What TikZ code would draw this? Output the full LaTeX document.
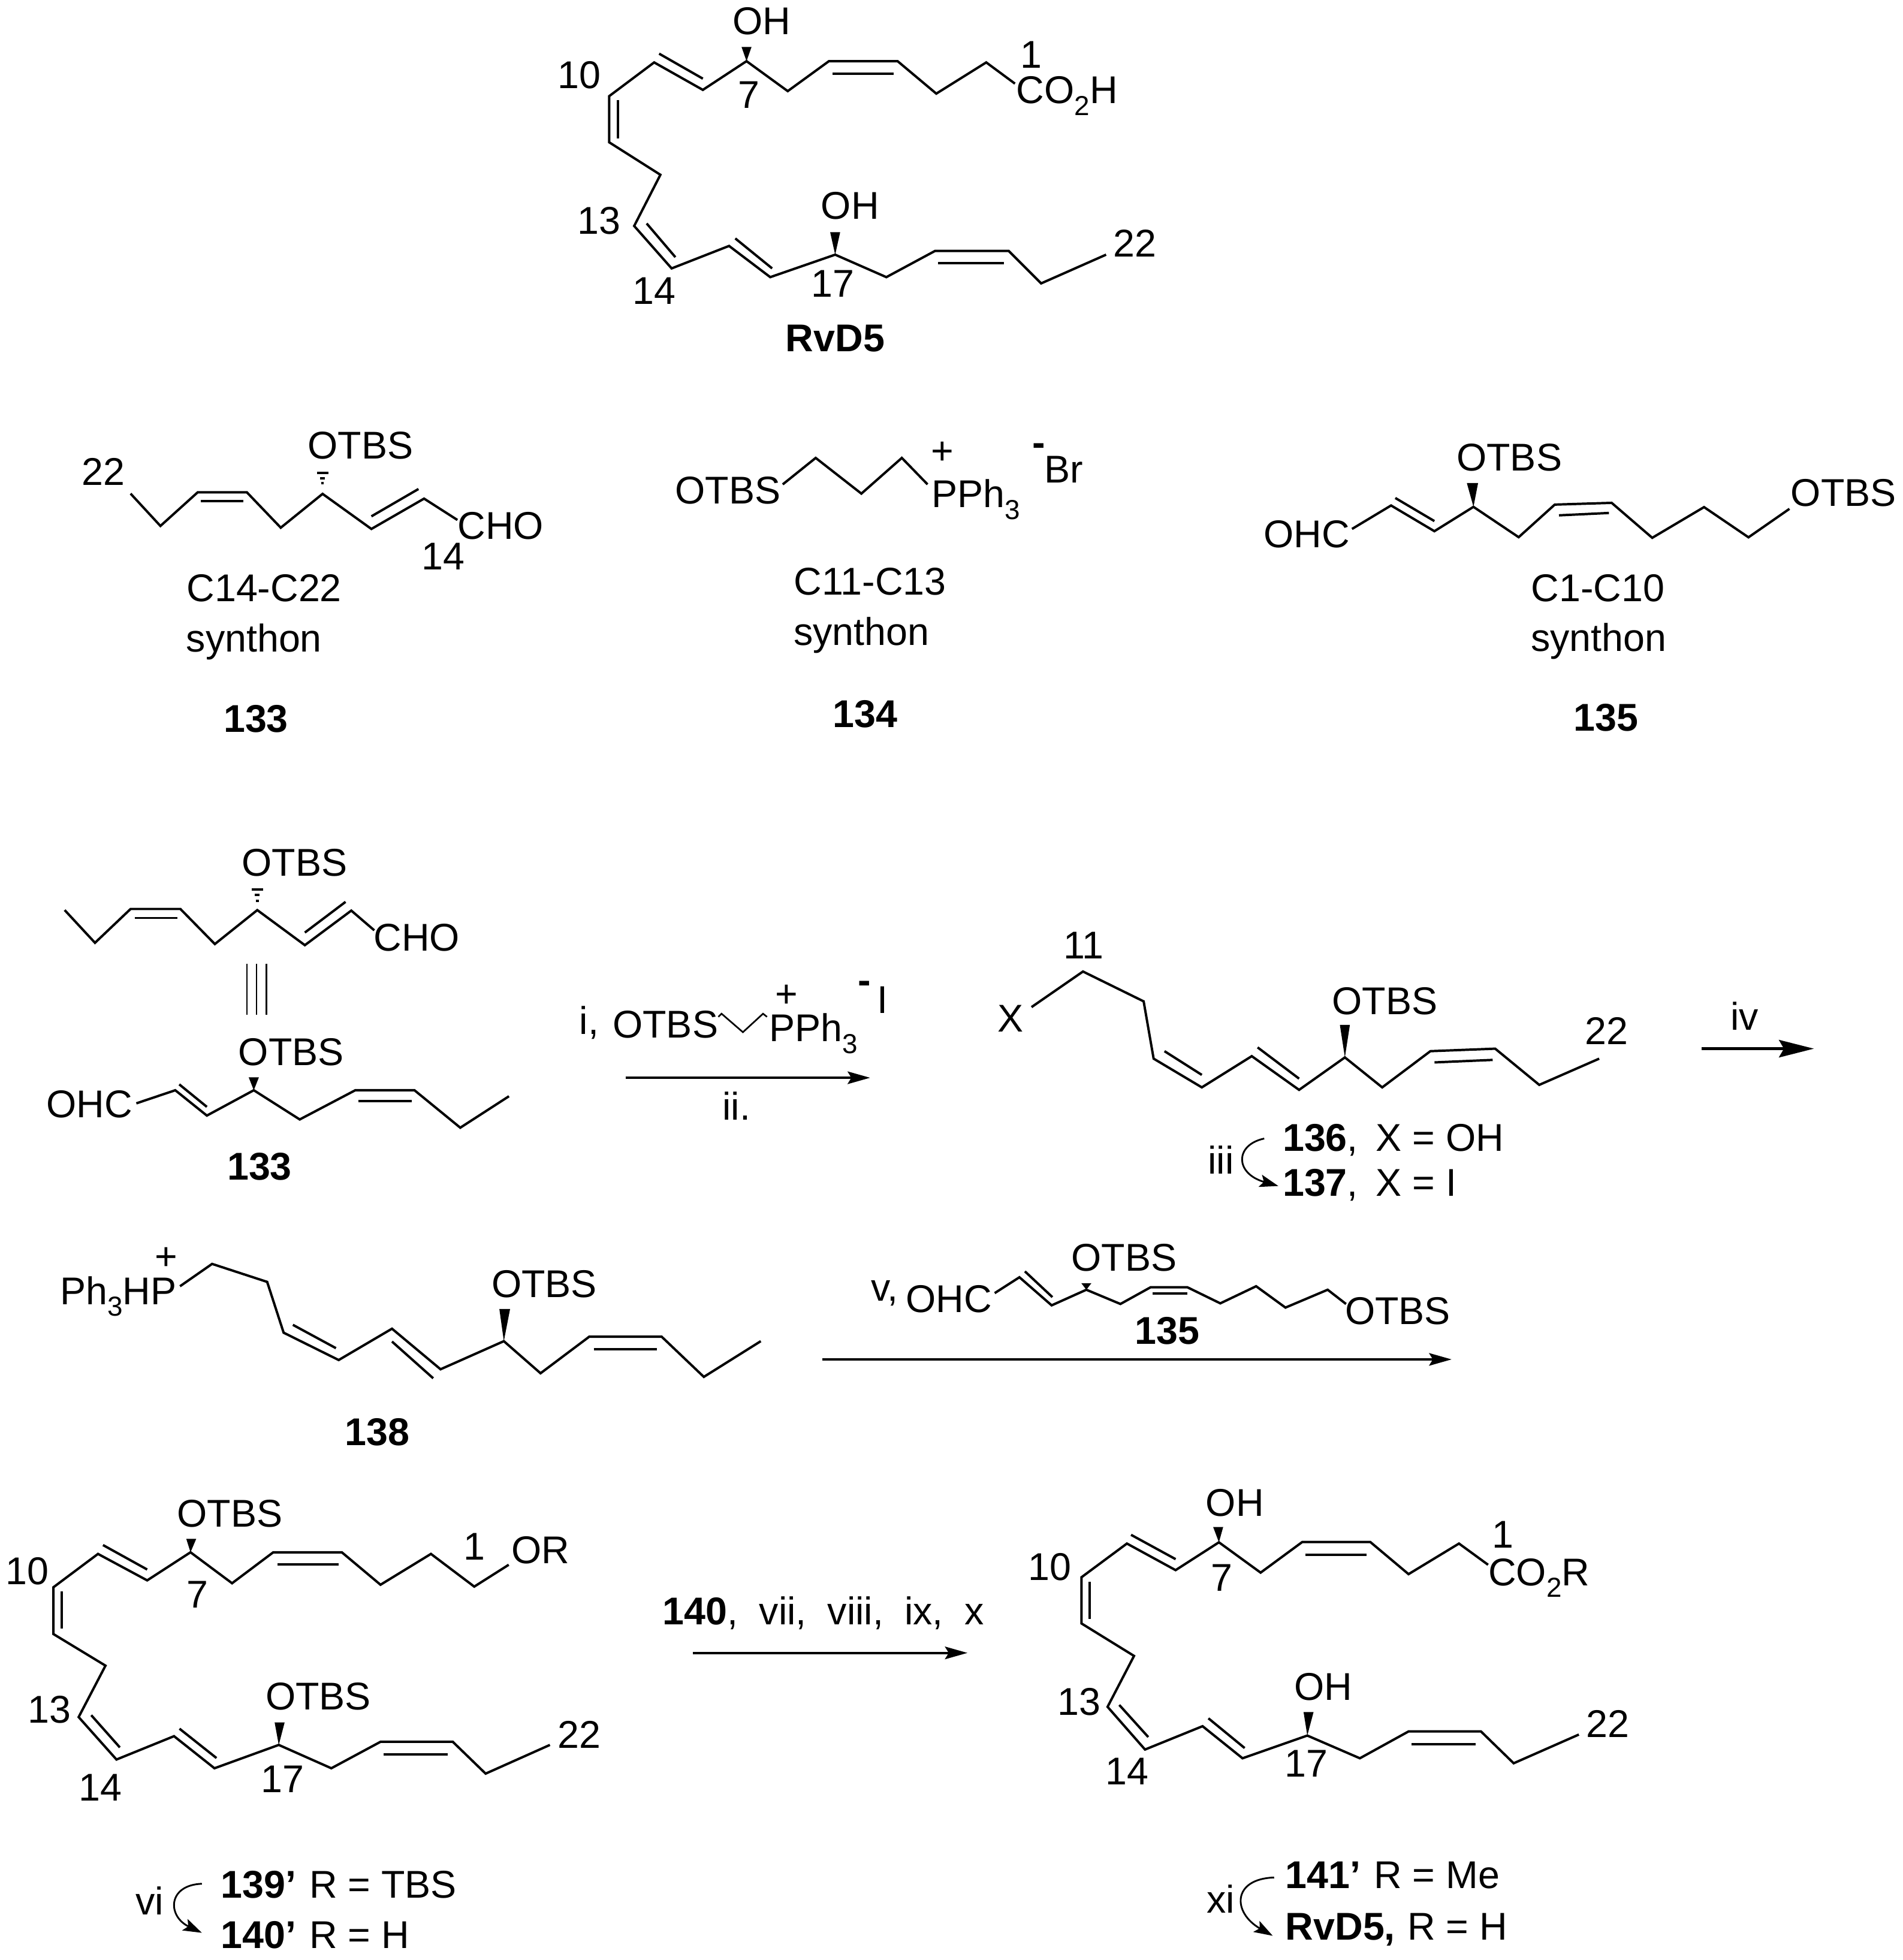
\documentclass[tikz,border=0pt]{standalone}
\usepackage{fontspec}
\setmainfont{Liberation Sans}
\usetikzlibrary{arrows.meta}
\newcommand{\lowsub}[1]{\raisebox{-0.3em}{\fontsize{22}{24}\selectfont #1}}
\tikzset{
  bond/.style={line width=1.9pt, line join=miter},
  lab/.style={inner sep=0pt, font=\fontsize{31}{35}\selectfont},
  rxn/.style={line width=2pt, -{Stealth[length=18pt,width=10pt,inset=3pt]}},
  curvearrow/.style={line width=1.4pt, -{Stealth[length=15pt,width=10pt,inset=3pt]}},
  hash/.style={line width=2pt}
}
\begin{document}
\begin{tikzpicture}[x=1pt,y=-1pt]
  \useasboundingbox (0,0) rectangle (1524,1570);
  \begin{scope}
    \draw[bond] (813,67) -- (790,50) -- (750,75) -- (719,49) -- (664,49) -- (631,73) -- (598,49) -- (563,72) -- (524,50) -- (488,77) -- (488,114) -- (529,140) -- (508,181) -- (538,215) -- (584,197) -- (617,222) -- (669,204) -- (710,222) -- (749,201) -- (808,201) -- (834,227) -- (886,204);
    \draw[bond] (528,43) -- (563,63);
    \draw[bond] (667,59) -- (716,59);
    \draw[bond] (495,80) -- (495,111);
    \draw[bond] (518,179) -- (541,206);
    \draw[bond] (589,191) -- (618.5,215);
    \draw[bond] (751.5,211) -- (804,211);
    \fill (598,49) -- (594,37.6) -- (602,37.6) -- cycle;
    \fill (669,204) -- (665,186) -- (673,186) -- cycle;
    \node[lab] (oha) at (610,17) {OH};
    \node[lab] (ohb) at (681,165) {OH};
    \node[lab] (ca) at (826,44) {1};
    \node[lab,anchor=base west] (acid) at (814,83) {CO\lowsub{2}H};
    \node[lab] (cg) at (600,76) {7};
    \node[lab] (cj) at (464,60) {10};
    \node[lab] (cm) at (480,177) {13};
    \node[lab] (cn) at (524,233) {14};
    \node[lab] (cq) at (667,227) {17};
    \node[lab] (cv) at (909,195) {22};
    \node[lab] (rvd) at (669,271) {\textbf{RvD5}};
  \end{scope}
  \begin{scope}
    \draw[bond] (104.6,395.4) -- (128.5,421.3) -- (158.3,394.4) -- (197.8,394.4) -- (224.9,422.7) -- (258.4,395.6) -- (297.5,423.7) -- (339.7,399.4) -- (366.4,416.5);
    \draw[bond] (160.6,401.6) -- (195,401.6);
    \draw[bond] (297.5,413.6) -- (335.2,391.7);
    \draw[hash] (257.4,387) -- (259.4,387);
    \draw[hash] (256.4,383) -- (260.4,383);
    \draw[hash] (253.9,378.8) -- (262.9,378.8);
    \node[lab] (sa22) at (83,377.6) {22};
    \node[lab] (saotbs) at (288.8,357) {OTBS};
    \node[lab] (sacho) at (401,421) {CHO};
    \node[lab] (sa14) at (355,445.7) {14};
    \node[lab] (satxt) at (211.6,471) {C14-C22};
    \node[lab,anchor=base] (saname) at (203.5,522) {synthon};
    \node[lab] (sanum) at (205,576) {\textbf{133}};
  \end{scope}
  \begin{scope}
    \draw[bond] (627,388) -- (653.4,366.8) -- (690,395.4) -- (722.4,366.8) -- (743,388);
    \node[lab] (sbotbs) at (583,393) {OTBS};
    \node[lab,anchor=base west] (sbp) at (746,406.6) {PPh\lowsub{3}};
    \node[lab] (sbplus) at (755,363) {+};
    \node[lab] (sbminus) at (832,360) {\textbf{-}};
    \node[lab] (sbbr) at (852,376) {Br};
    \node[lab] (sbtxt) at (697,466) {C11-C13};
    \node[lab,anchor=base] (sbname) at (690,517) {synthon};
    \node[lab] (sbnum) at (693,572) {\textbf{134}};
  \end{scope}
  \begin{scope}
    \draw[bond] (1083,423.7) -- (1114.3,404.9) -- (1149,425.5) -- (1180.3,406) -- (1216.5,430.3) -- (1245.4,404.2) -- (1291,402.8) -- (1323.5,430.8) -- (1365,406.2) -- (1400.6,430.4) -- (1433.4,407.6);
    \draw[bond] (1117.7,398.9) -- (1149,417.4);
    \draw[bond] (1248.8,412.8) -- (1288.8,410.9);
    \fill (1180.3,406) -- (1175,386.9) -- (1184,386.9) -- cycle;
    \node[lab] (scotbs) at (1209,366.5) {OTBS};
    \node[lab] (scotbsb) at (1476.7,394.8) {OTBS};
    \node[lab] (scohc) at (1046.8,428) {OHC};
    \node[lab] (sctxt) at (1280,471) {C1-C10};
    \node[lab,anchor=base] (scname) at (1280.6,521.7) {synthon};
    \node[lab] (scnum) at (1286.4,575) {\textbf{135}};
  \end{scope}
  \begin{scope}
    \draw[bond] (51.8,729) -- (76.1,755.2) -- (104.6,728.1) -- (144.5,728.1) -- (172.1,756.2) -- (206.1,729) -- (244.2,757.1) -- (281.4,729.4) -- (299.8,745.2);
    \draw[bond] (107.8,735.3) -- (142.2,735.3);
    \draw[bond] (244.2,747) -- (276.8,722.4);
    \draw[hash] (205,721.5) -- (207.2,721.5);
    \draw[hash] (204.1,717) -- (208.1,717);
    \draw[hash] (201.6,712.3) -- (210.6,712.3);
    \node[lab] (daotbs) at (236,691) {OTBS};
    \node[lab] (dacho) at (333.8,750.9) {CHO};
    \draw[line width=1.2pt] (197.8,771.8) -- (197.8,812.6);
    \draw[line width=1.2pt] (205.6,771.8) -- (205.6,812.6);
    \draw[line width=1.2pt] (213.4,771.8) -- (213.4,812.6);
    \draw[bond] (109.2,883.8) -- (140.4,873.3) -- (165.7,893.6) -- (203.3,873.3) -- (240.1,896.7) -- (284.6,873.3) -- (332,873.3) -- (368.7,903.3) -- (407.7,878.1);
    \draw[bond] (143.6,868.6) -- (165.7,886.6);
    \draw[bond] (286.9,881.9) -- (329.6,881.9);
    \fill (203.3,873.3) -- (199.2,862.9) -- (207.4,862.9) -- cycle;
    \node[lab] (dbotbs) at (233.2,842.6) {OTBS};
    \node[lab] (dbohc) at (71.5,884.7) {OHC};
    \node[lab] (dbnum) at (207.9,934.5) {\textbf{133}};
  \end{scope}
  \begin{scope}
    \coordinate (ra) at (501,863.3);
    \coordinate (rb) at (697,863.3);
    \draw[rxn] (ra) -- (rb);
    \node[lab] (ri) at (472,819) {i,};
    \node[lab] (rotbs) at (533,820.5) {OTBS};
    \draw[line width=1.3pt] (575.4,814.5) -- (578,812) -- (595.1,826.8) -- (611.2,812) -- (614.4,814.5);
    \node[lab,anchor=base west] (rp) at (615.8,834.4) {PPh\lowsub{3}};
    \node[lab] (rplus) at (630,798) {+};
    \node[lab] (rminus) at (692.5,791) {\textbf{-}};
    \node[lab] (riodo) at (706.8,801.2) {I};
    \node[lab] (rii) at (590,886) {ii.};
  \end{scope}
  \begin{scope}
    \draw[bond] (826.3,806.7) -- (867.5,778.2) -- (916.1,802.1) -- (924.1,848) -- (962.7,871) -- (1002.7,846) -- (1040.6,873) -- (1077.3,847) -- (1107.2,871) -- (1145.8,842) -- (1197.7,840) -- (1233,869) -- (1281,848);
    \draw[bond] (932.8,842) -- (962.7,861);
    \draw[bond] (1007.4,839) -- (1040.6,864);
    \draw[bond] (1149.1,851) -- (1195.7,849);
    \fill (1077.3,847) -- (1073.3,821) -- (1081.3,821) -- cycle;
    \node[lab] (ex) at (809.6,816) {X};
    \node[lab] (e11) at (868.2,757.2) {11};
    \node[lab] (eotbs) at (1109.2,802) {OTBS};
    \node[lab] (e22) at (1287,826) {22};
    \node[lab] (eiv) at (1397.5,814) {iv};
    \coordinate (ia) at (1363,840);
    \coordinate (ib) at (1453,840);
    \draw[line width=2pt, -{Stealth[length=28pt,width=14pt,inset=4pt]}] (ia) -- (ib);
    \node[lab,anchor=base west] (e136) at (1027.3,922) {\textbf{136},\hspace{14.5pt}X = OH};
    \node[lab,anchor=base west] (e137) at (1027.3,958) {\textbf{137},\hspace{14.5pt}X = I};
    \node[lab] (eiii) at (978,929) {iii};
    \coordinate (ca1) at (1012.7,912);
    \coordinate (ca2) at (1024,950);
    \draw[curvearrow] (ca1) .. controls (989,917) and (989,940) .. (ca2);
  \end{scope}
  \begin{scope}
    \draw[bond] (144.2,1030.3) -- (169.9,1012.4) -- (214,1026.8) -- (227.2,1067.5) -- (271.3,1089.4) -- (314,1064.3) -- (352.9,1096.8) -- (403.6,1074.3) -- (433,1100) -- (472,1070.7) -- (530,1070.7) -- (563.8,1102.9) -- (609.4,1074.3);
    \draw[bond] (234.6,1061.2) -- (269.1,1079.9);
    \draw[bond] (314,1074.6) -- (347,1104);
    \draw[bond] (475.6,1080.8) -- (526.3,1080.8);
    \fill (403.6,1074.3) -- (400,1048.5) -- (408.6,1048.5) -- cycle;
    \node[lab,anchor=base west] (fp) at (48,1045) {Ph\lowsub{3}HP};
    \node[lab] (fplus) at (133.2,1008) {+};
    \node[lab] (fotbs) at (435.9,1028.4) {OTBS};
    \node[lab] (fnum) at (302.2,1147) {\textbf{138}};
  \end{scope}
  \begin{scope}
    \coordinate (sa) at (658.6,1088.9);
    \coordinate (sb) at (1162.8,1088.9);
    \draw[rxn] (sa) -- (sb);
    \draw[bond] (796.8,1035.8) -- (816.6,1023.1) -- (842.4,1045.6) -- (870.2,1033.1) -- (897.5,1044.5) -- (921.7,1031.1) -- (951.1,1031.1) -- (977.5,1044) -- (1006.2,1030.3) -- (1029.7,1047.4) -- (1063.5,1033.1) -- (1078.2,1044.5);
    \draw[bond] (821,1018.4) -- (843,1039);
    \draw[bond] (923.2,1036.3) -- (951.1,1036.3);
    \fill (870.2,1033.1) -- (866.2,1027.9) -- (874.2,1027.9) -- cycle;
    \node[lab] (gv) at (708.6,1036) {v,};
    \node[lab] (gohc) at (760,1040.6) {OHC};
    \node[lab] (gotbs) at (900.5,1007.3) {OTBS};
    \node[lab] (gotbsb) at (1119.6,1050) {OTBS};
    \node[lab] (gnum) at (935,1066) {\textbf{135}};
  \end{scope}
  \begin{scope}
    \draw[bond] (407.5,1253.4) -- (379.9,1270.9) -- (345.2,1244.7) -- (304.8,1269.4) -- (273.8,1243.4) -- (218.9,1243.4) -- (185.9,1268.2) -- (152.6,1243.4) -- (117.9,1265.9) -- (78.5,1244.7) -- (42.8,1271.4) -- (42.8,1308.9) -- (84.5,1334.2) -- (63,1375.4) -- (93.3,1409.4) -- (139.4,1390.7) -- (171.8,1416.4) -- (223.3,1397.7) -- (265.4,1416.4) -- (304.8,1395.2) -- (362.7,1395.2) -- (389,1420.7) -- (440.5,1397.7);
    \draw[bond] (82.5,1237.6) -- (117.9,1257.2);
    \draw[bond] (222.3,1253.2) -- (271.1,1253.2);
    \draw[bond] (49.5,1274.7) -- (49.5,1304.7);
    \draw[bond] (73.1,1373.9) -- (96,1399.7);
    \draw[bond] (143.8,1384.7) -- (173.4,1408.2);
    \draw[bond] (307.2,1405.2) -- (358.7,1405.2);
    \fill (152.6,1243.4) -- (149.2,1232.6) -- (157.2,1232.6) -- cycle;
    \fill (223.3,1397.7) -- (220,1379.7) -- (228,1379.7) -- cycle;
    \node[lab] (hotbs) at (184.2,1212.2) {OTBS};
    \node[lab] (hotbsb) at (255,1358.9) {OTBS};
    \node[lab] (h1) at (380,1238.9) {1};
    \node[lab] (hor) at (432.8,1241.9) {OR};
    \node[lab] (h7) at (158.3,1277.2) {7};
    \node[lab] (h10) at (21.9,1258.4) {10};
    \node[lab] (h13) at (39.7,1369.4) {13};
    \node[lab] (h14) at (80.2,1431.9) {14};
    \node[lab] (h17) at (226.3,1425.2) {17};
    \node[lab] (h22) at (463.8,1389.4) {22};
    \node[lab] (hvi) at (119.9,1522.6) {vi};
    \node[lab,anchor=base west] (h139) at (176.8,1520.5) {\textbf{139’}\hspace{10.5pt}R = TBS};
    \node[lab,anchor=base west] (h140) at (176.8,1560.5) {\textbf{140’}\hspace{10.5pt}R = H};
    \coordinate (cb1) at (161.7,1508.9);
    \coordinate (cb2) at (161.7,1548.2);
    \draw[curvearrow] (cb1) .. controls (134,1510) and (134,1535) .. (cb2);
  \end{scope}
  \begin{scope}
    \coordinate (ta) at (555,1324);
    \coordinate (tb) at (775,1324);
    \draw[rxn] (ta) -- (tb);
    \node[lab] (tlab) at (659.5,1292) {\textbf{140},\hspace{16.9pt}vii,\hspace{16.9pt}viii,\hspace{16.9pt}ix,\hspace{16.9pt}x};
  \end{scope}
  \begin{scope}
    \draw[bond] (1192,1253.4) -- (1168.7,1236.4) -- (1128.3,1260.9) -- (1097.7,1235.2) -- (1043.1,1235.2) -- (1009.8,1259.7) -- (976.4,1235.4) -- (941.7,1257.7) -- (902.7,1236.4) -- (866.3,1263.4) -- (866.3,1300.4) -- (908.4,1326.4) -- (887.2,1367.2) -- (917.2,1401.4) -- (963.3,1382.7) -- (995.3,1408.4) -- (1047.2,1390.2) -- (1089.3,1408.4) -- (1128.3,1386.9) -- (1186.3,1386.9) -- (1212.5,1412.4) -- (1264.7,1389.4);
    \draw[bond] (906,1229.4) -- (941.7,1248.9);
    \draw[bond] (1045.5,1245.2) -- (1094.6,1245.2);
    \draw[bond] (873,1266.9) -- (873,1296.9);
    \draw[bond] (896.6,1365.7) -- (919.8,1391.4);
    \draw[bond] (968,1376.4) -- (997,1400.2);
    \draw[bond] (1130.7,1397.2) -- (1182.2,1397.2);
    \fill (976.4,1235.4) -- (971.8,1223.2) -- (979.8,1223.2) -- cycle;
    \fill (1047.2,1390.2) -- (1044.2,1371.4) -- (1052.2,1371.4) -- cycle;
    \node[lab] (koh) at (989.2,1203.9) {OH};
    \node[lab] (kohb) at (1060,1351.4) {OH};
    \node[lab] (k1) at (1203.8,1229.4) {1};
    \node[lab,anchor=base west] (kester) at (1192,1270) {CO\lowsub{2}R};
    \node[lab] (k7) at (978.5,1263.9) {7};
    \node[lab] (k10) at (841,1255) {10};
    \node[lab] (k13) at (864.6,1363.4) {13};
    \node[lab] (k14) at (902.7,1418.9) {14};
    \node[lab] (k17) at (1046.5,1412.6) {17};
    \node[lab] (k22) at (1288,1380.9) {22};
    \node[lab] (kxi) at (978,1520.9) {xi};
    \node[lab,anchor=base west] (k141) at (1029.6,1512.5) {\textbf{141’}\hspace{10.5pt}R = Me};
    \node[lab,anchor=base west] (krvd) at (1029.6,1554) {\textbf{RvD5,}\hspace{9.8pt}R = H};
    \coordinate (cc1) at (1020.6,1503.9);
    \coordinate (cc2) at (1019.5,1550.6);
    \draw[curvearrow] (cc1) .. controls (987,1505) and (987,1532) .. (cc2);
  \end{scope}
\end{tikzpicture}
\end{document}
